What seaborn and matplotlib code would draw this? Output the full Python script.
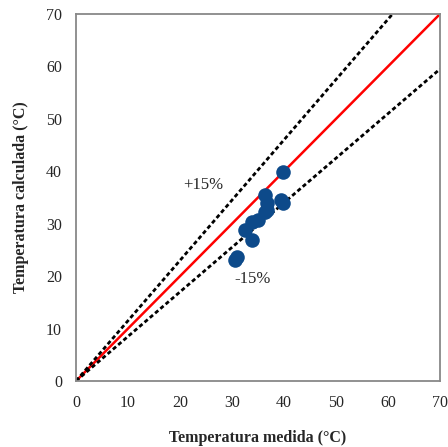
import matplotlib
matplotlib.use("Agg")
import matplotlib.pyplot as plt
import seaborn as sns
import numpy as np
import pandas as pd

medida = [39.8, 36.3, 39.4, 39.8, 36.7, 36.7, 36.3, 35.0, 33.8, 32.5, 33.8, 30.9, 30.6]
calculada = [39.9, 35.5, 34.5, 34.0, 33.9, 32.6, 32.3, 30.7, 30.4, 28.8, 26.8, 23.6, 23.1]
line_x = [0, 70]

sns.set_style("white")
plt.rcParams['font.family'] = ['Liberation Serif', 'DejaVu Serif']

fig = plt.figure(figsize=(4.48, 4.47), dpi=100)
ax = fig.add_axes([76/448, 1-381/447, (440-76)/448, (381-14)/447])

df = pd.DataFrame({"medida": medida, "calculada": calculada})
lx = np.array(line_x, dtype=float)
ax.plot(lx, lx, color="#FF0000", lw=1.8, zorder=2)
ax.plot(lx, 1.15*lx, color="black", lw=2.0, ls=(0, (1.5, 1.0)), zorder=2)
ax.plot(lx, 0.85*lx, color="black", lw=2.0, ls=(0, (1.5, 1.0)), zorder=2)
sns.scatterplot(data=df, x="medida", y="calculada", ax=ax, color="#0D4A8A",
                s=110, edgecolor="#0D4A8A", linewidth=0, zorder=3)

ax.text(24.5, 37.3, "+15%", fontsize=12, ha="center", va="center")
ax.text(34, 19.5, "-15%", fontsize=12, ha="center", va="center")

ax.set_xlim(0, 70)
ax.set_ylim(0, 70)
ax.set_xticks(range(0, 71, 10))
ax.set_yticks(range(0, 71, 10))
for s in ax.spines.values():
    s.set_color("#888888")
    s.set_linewidth(1.3)
ax.tick_params(axis="both", direction="out", length=5, color="#999999",
               labelsize=11.5, width=1, pad=5)
ax.set_xlabel("Temperatura medida (°C)", fontsize=11.5, fontweight="bold", labelpad=14)
ax.set_ylabel("Temperatura calculada (°C)", fontsize=11.5, fontweight="bold", labelpad=12)

fig.savefig("out.png", dpi=100)
